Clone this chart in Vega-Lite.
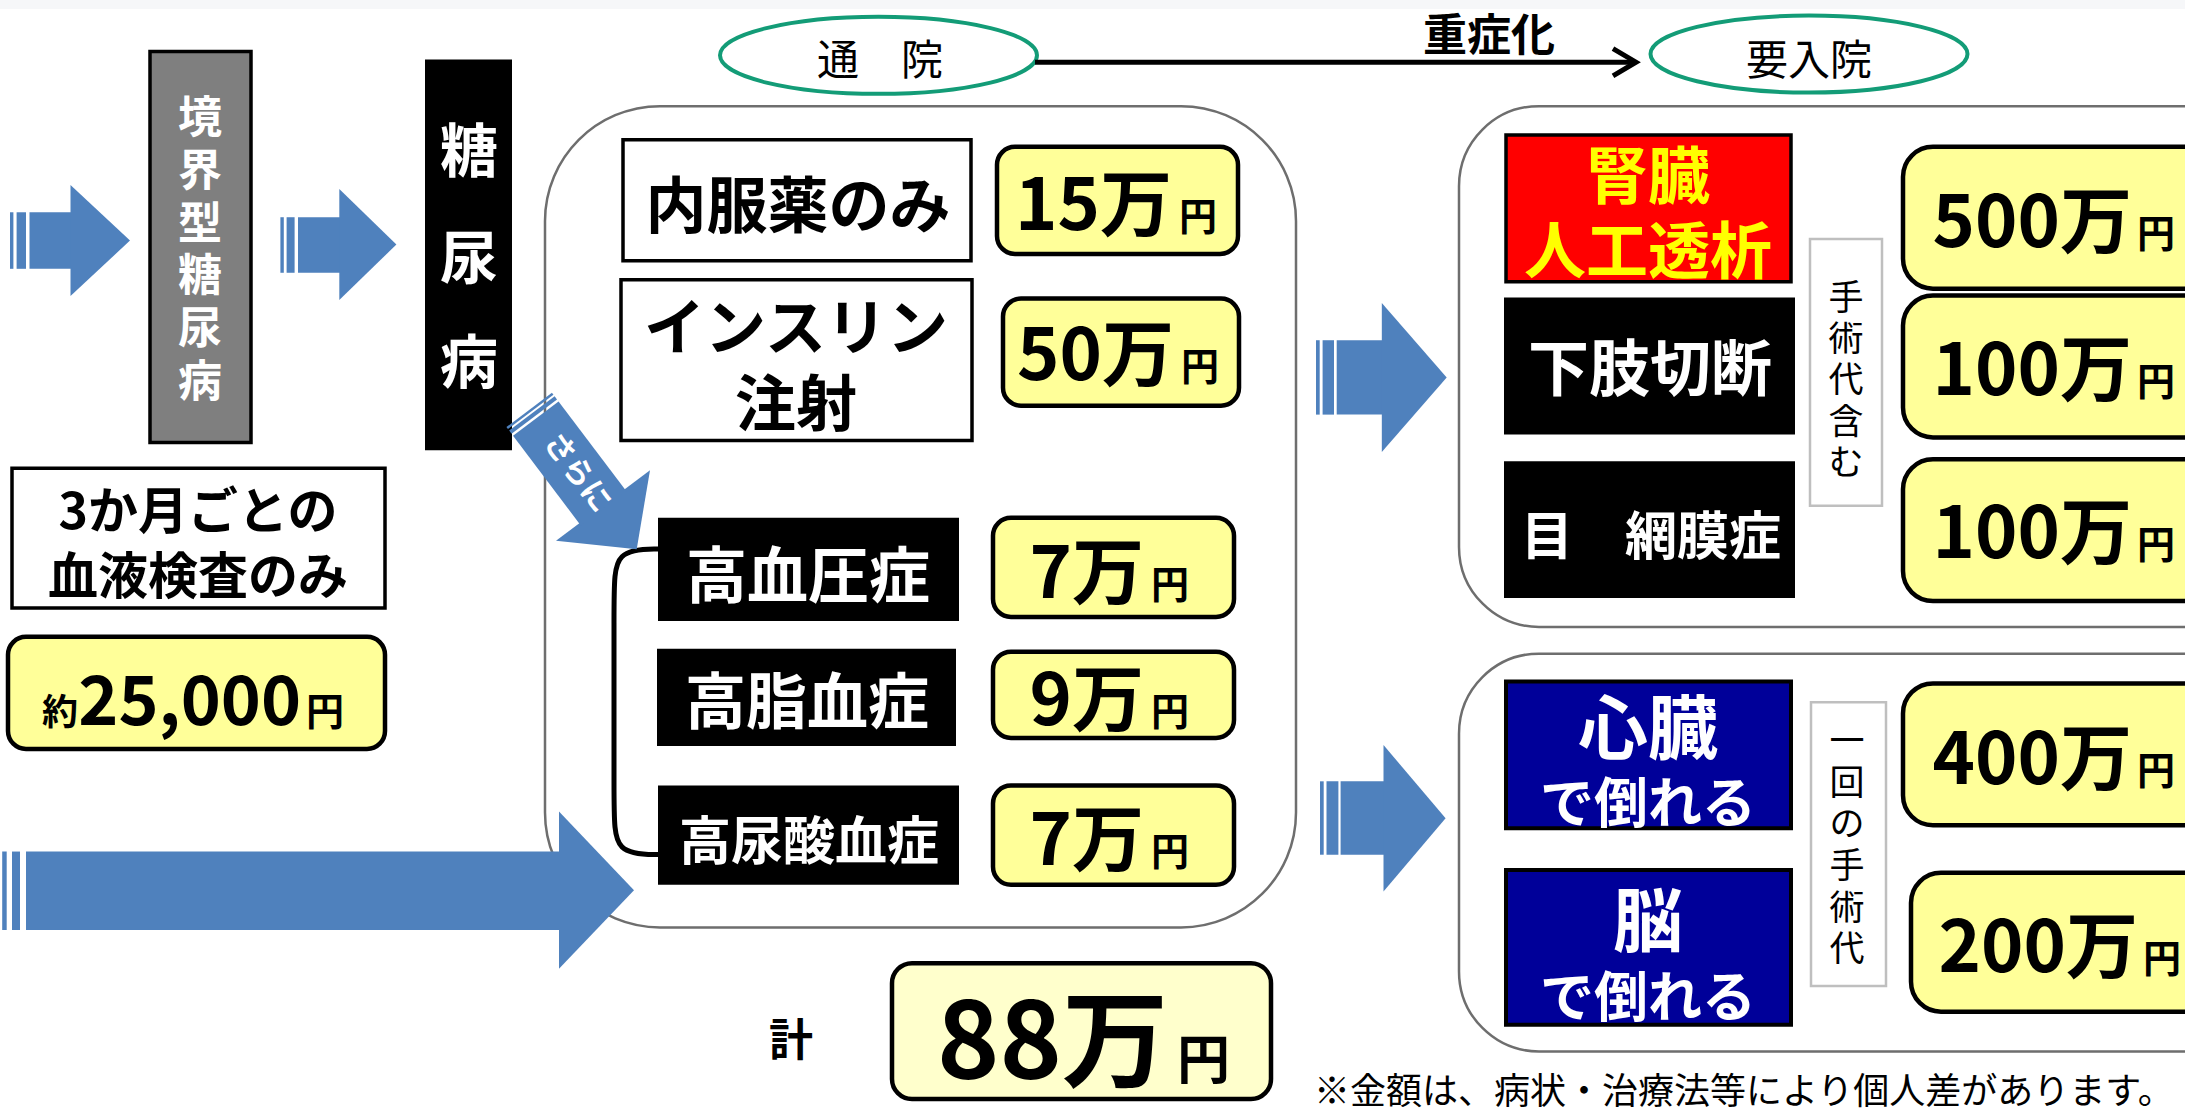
{
  "$schema": "https://vega.github.io/schema/vega-lite/v6.json",
  "width": 2185,
  "height": 1111,
  "autosize": {"type": "fit", "contains": "padding"},
  "padding": 0,
  "background": "white",
  "config": {"view": {"stroke": null}, "text": {"font": "Noto Sans CJK JP"}},
  "datasets": {
    "band": [{"x": 0, "x2": 2185, "y": 0, "y2": 9}],
    "frameL": [{"name": "通院", "x": 545, "x2": 1296, "y": 107, "y2": 935}],
    "frameR": [{"name": "要入院A", "x": 1459, "x2": 2290, "y": 107, "y2": 632}, {"name": "要入院B", "x": 1459, "x2": 2290, "y": 659, "y2": 1060}],
    "bracket": [{"o": 0, "x": 662, "y": 553.5}, {"o": 1, "x": 614, "y": 553.5}, {"o": 2, "x": 614, "y": 600}, {"o": 3, "x": 614, "y": 815}, {"o": 4, "x": 614, "y": 861.5}, {"o": 5, "x": 662, "y": 861.5}],
    "whiteBoxes": [{"x": 623, "x2": 971, "y": 141, "y2": 263}, {"x": 621, "x2": 972, "y": 282, "y2": 444}, {"x": 12, "x2": 385, "y": 472, "y2": 613}],
    "grayBox": [{"x": 150, "x2": 251, "y": 52, "y2": 446}],
    "blackBoxes": [{"x": 425, "x2": 512, "y": 60, "y2": 454}, {"x": 658, "x2": 959, "y": 522, "y2": 626}, {"x": 657, "x2": 956, "y": 654, "y2": 752}, {"x": 658, "x2": 959, "y": 792, "y2": 892}, {"x": 1504, "x2": 1795, "y": 300, "y2": 438}, {"x": 1504, "x2": 1795, "y": 465, "y2": 603}],
    "redBox": [{"x": 1506, "x2": 1791, "y": 136, "y2": 284}],
    "navyBoxes": [{"x": 1506, "x2": 1791, "y": 687, "y2": 835}, {"x": 1506, "x2": 1791, "y": 877, "y2": 1033}],
    "noteBoxes": [{"x": 1810, "x2": 1882, "y": 241, "y2": 510}, {"x": 1811, "x2": 1886, "y": 708, "y2": 994}],
    "priceBoxes": [{"x": 8, "x2": 385, "y": 642, "y2": 755}, {"x": 997, "x2": 1238, "y": 148, "y2": 256}, {"x": 1003, "x2": 1239, "y": 301, "y2": 409}, {"x": 993, "x2": 1234, "y": 522, "y2": 622}, {"x": 993, "x2": 1234, "y": 657, "y2": 744}, {"x": 993, "x2": 1234, "y": 792, "y2": 892}],
    "priceBoxesR": [{"x": 1903, "x2": 2215, "y": 148, "y2": 291}, {"x": 1903, "x2": 2215, "y": 298, "y2": 441}, {"x": 1903, "x2": 2215, "y": 463, "y2": 606}, {"x": 1903, "x2": 2215, "y": 689, "y2": 832}, {"x": 1911, "x2": 2215, "y": 880, "y2": 1020}],
    "totalBox": [{"x": 892, "x2": 1271, "y": 971, "y2": 1108}],
    "arrowBars": [
      {"x": 10, "x2": 13.4, "y": 214, "y2": 271}, {"x": 16.6, "x2": 26, "y": 214, "y2": 271}, {"x": 29.5, "x2": 71, "y": 214, "y2": 271},
      {"x": 280.4, "x2": 283.8, "y": 219, "y2": 275}, {"x": 286.6, "x2": 294.6, "y": 219, "y2": 275}, {"x": 298, "x2": 340, "y": 219, "y2": 275},
      {"x": 1316, "x2": 1319.7, "y": 343, "y2": 418}, {"x": 1322.6, "x2": 1334, "y": 343, "y2": 418}, {"x": 1336.7, "x2": 1382.5, "y": 343, "y2": 418},
      {"x": 1320, "x2": 1323.7, "y": 787.7, "y2": 861.7}, {"x": 1326.5, "x2": 1338.4, "y": 787.7, "y2": 861.7}, {"x": 1340.6, "x2": 1384, "y": 787.7, "y2": 861.7},
      {"x": 2.2, "x2": 6.7, "y": 858.5, "y2": 937.6}, {"x": 12, "x2": 20, "y": 858.5, "y2": 937.6}, {"x": 26, "x2": 560, "y": 858.5, "y2": 937.6}
    ],
    "arrowHeads": [
      {"id": "a1", "x": 70.5, "y": 242.5},
      {"id": "a2", "x": 339.3, "y": 246.5},
      {"id": "a3", "x": 1381.8, "y": 380.5},
      {"id": "a4", "x": 1383.5, "y": 825},
      {"id": "a5", "x": 559, "y": 897.4},
      {"id": "a6", "x": 603, "y": 509.7}
    ],
    "diagShaft": [{"x": 535.8, "y": 422, "x2": 603.5, "y2": 512.4}],
    "diagStripes": [{"x": 529.2, "y": 413.2, "x2": 530.7, "y2": 415.2}, {"x": 531.9, "y": 416.8, "x2": 534.3, "y2": 420}],
    "ovals": [{"t": "通院", "x": 878.5, "y": 55.8}, {"t": "要入院", "x": 1809, "y": 54.5}],
    "connector": [{"x": 1035, "x2": 1634, "y": 62.7}],
    "chevron": [{"o": 0, "x": 1613, "y": 49}, {"o": 1, "x": 1636, "y": 62.7}, {"o": 2, "x": 1613, "y": 76.5}]
  },
  "encoding": {
    "x": {"field": "x", "type": "quantitative", "scale": {"domain": [0, 2185], "nice": false, "zero": false}, "axis": null},
    "y": {"field": "y", "type": "quantitative", "scale": {"domain": [0, 1111], "nice": false, "zero": false, "reverse": true}, "axis": null}
  },
  "layer": [
    {"data": {"name": "band"}, "mark": {"type": "rect", "fill": "#F6F7F9"}, "encoding": {"x2": {"field": "x2"}, "y2": {"field": "y2"}}},
    {"data": {"name": "frameL"}, "mark": {"type": "rect", "fill": "white", "stroke": "#6E6E6E", "strokeWidth": 2.5, "cornerRadius": 115}, "encoding": {"x2": {"field": "x2"}, "y2": {"field": "y2"}}},
    {"data": {"name": "frameR"}, "mark": {"type": "rect", "fill": "white", "stroke": "#6E6E6E", "strokeWidth": 2.5, "cornerRadius": 80, "clip": true}, "encoding": {"x2": {"field": "x2"}, "y2": {"field": "y2"}}},
    {"data": {"name": "bracket"}, "mark": {"type": "line", "stroke": "black", "strokeWidth": 5, "interpolate": "basis"}, "encoding": {"order": {"field": "o", "type": "quantitative"}}},
    {"data": {"name": "whiteBoxes"}, "mark": {"type": "rect", "fill": "white", "stroke": "black", "strokeWidth": 3.5}, "encoding": {"x2": {"field": "x2"}, "y2": {"field": "y2"}}},
    {"data": {"name": "grayBox"}, "mark": {"type": "rect", "fill": "#7F7F7F", "stroke": "black", "strokeWidth": 3.5}, "encoding": {"x2": {"field": "x2"}, "y2": {"field": "y2"}}},
    {"data": {"name": "blackBoxes"}, "mark": {"type": "rect", "fill": "black"}, "encoding": {"x2": {"field": "x2"}, "y2": {"field": "y2"}}},
    {"data": {"name": "redBox"}, "mark": {"type": "rect", "fill": "#FF0000", "stroke": "black", "strokeWidth": 3.5}, "encoding": {"x2": {"field": "x2"}, "y2": {"field": "y2"}}},
    {"data": {"name": "navyBoxes"}, "mark": {"type": "rect", "fill": "#000099", "stroke": "black", "strokeWidth": 4}, "encoding": {"x2": {"field": "x2"}, "y2": {"field": "y2"}}},
    {"data": {"name": "noteBoxes"}, "mark": {"type": "rect", "fill": "white", "stroke": "#BFBFBF", "strokeWidth": 2.5}, "encoding": {"x2": {"field": "x2"}, "y2": {"field": "y2"}}},
    {"data": {"name": "priceBoxes"}, "mark": {"type": "rect", "fill": "#FFFF99", "stroke": "black", "strokeWidth": 4.5, "cornerRadius": 18}, "encoding": {"x2": {"field": "x2"}, "y2": {"field": "y2"}}},
    {"data": {"name": "priceBoxesR"}, "mark": {"type": "rect", "fill": "#FFFF99", "stroke": "black", "strokeWidth": 4.5, "cornerRadius": 30, "clip": true}, "encoding": {"x2": {"field": "x2"}, "y2": {"field": "y2"}}},
    {"data": {"name": "totalBox"}, "mark": {"type": "rect", "fill": "#FFFFCC", "stroke": "black", "strokeWidth": 4.5, "cornerRadius": 20}, "encoding": {"x2": {"field": "x2"}, "y2": {"field": "y2"}}},
    {"data": {"name": "arrowBars"}, "mark": {"type": "rect", "fill": "#4F81BD"}, "encoding": {"x2": {"field": "x2"}, "y2": {"field": "y2"}}},
    {"data": {"name": "arrowHeads"}, "mark": {"type": "point", "filled": true, "size": 4, "opacity": 1, "color": "#4F81BD", "strokeWidth": 0}, "encoding": {"shape": {"field": "id", "type": "nominal", "legend": null, "scale": {"domain": ["a1", "a2", "a3", "a4", "a5", "a6"], "range": ["M0,-55.5L59.5,0L0,55.5Z", "M0,-55.5L57.1,0L0,55.5Z", "M0,-74.5L64.9,0L0,74.5Z", "M0,-73.3L62.1,0L0,73.3Z", "M0,-78.7L75,0L0,78.6Z", "M-47,35.3L47,-35.4L33.7,43.6Z"]}}}},
    {"data": {"name": "diagShaft"}, "mark": {"type": "rule", "stroke": "#4F81BD", "strokeWidth": 57, "strokeCap": "butt"}, "encoding": {"x2": {"field": "x2"}, "y2": {"field": "y2"}}},
    {"data": {"name": "diagStripes"}, "mark": {"type": "rule", "stroke": "#4F81BD", "strokeWidth": 57, "strokeCap": "butt"}, "encoding": {"x2": {"field": "x2"}, "y2": {"field": "y2"}}},
    {"data": {"name": "ovals"}, "mark": {"type": "point", "shape": "M-1,0 C-1,-0.134 -0.552,-0.243 0,-0.243 C0.552,-0.243 1,-0.134 1,0 C1,0.134 0.552,0.243 0,0.243 C-0.552,0.243 -1,0.134 -1,0 Z", "size": 100489, "filled": false, "stroke": "#139C77", "strokeWidth": 4, "opacity": 1}, "encoding": {}},
    {"data": {"name": "connector"}, "mark": {"type": "rule", "stroke": "black", "strokeWidth": 5}, "encoding": {"x2": {"field": "x2"}}},
    {"data": {"name": "chevron"}, "mark": {"type": "line", "stroke": "black", "strokeWidth": 5, "strokeJoin": "miter"}, "encoding": {"order": {"field": "o", "type": "quantitative"}}},
    {"data": {"values": [{"t": "境", "x": 200, "y": 121}, {"t": "界", "x": 200, "y": 174.2}, {"t": "型", "x": 200, "y": 227.4}, {"t": "糖", "x": 200, "y": 280.6}, {"t": "尿", "x": 200, "y": 333.8}, {"t": "病", "x": 200, "y": 387}]}, "mark": {"type": "text", "fontSize": 44, "fontWeight": "bold", "color": "white", "align": "center", "baseline": "middle"}, "encoding": {"text": {"field": "t"}}},
    {"data": {"values": [{"t": "糖", "x": 469, "y": 156}, {"t": "尿", "x": 469, "y": 264}, {"t": "病", "x": 469, "y": 369}]}, "mark": {"type": "text", "fontSize": 58, "fontWeight": "bold", "color": "white", "align": "center", "baseline": "middle"}, "encoding": {"text": {"field": "t"}}},
    {"data": {"values": [{"t": "3か月ごとの", "x": 198, "y": 518}, {"t": "血液検査のみ", "x": 198, "y": 584}]}, "mark": {"type": "text", "fontSize": 50, "fontWeight": "bold", "color": "black", "align": "center", "baseline": "middle"}, "encoding": {"text": {"field": "t"}}},
    {"data": {"values": [{"t": "内服薬のみ", "x": 798, "y": 212}, {"t": "インスリン", "x": 796, "y": 335}, {"t": "注射", "x": 796, "y": 411}]}, "mark": {"type": "text", "fontSize": 61, "fontWeight": "bold", "color": "black", "align": "center", "baseline": "middle"}, "encoding": {"text": {"field": "t"}}},
    {"data": {"values": [{"t": "計", "x": 791, "y": 1052}, {"t": "重症化", "x": 1489, "y": 38}]}, "mark": {"type": "text", "fontSize": 44, "fontWeight": "bold", "color": "black", "align": "center", "baseline": "middle"}, "encoding": {"text": {"field": "t"}}},
    {"data": {"values": [{"t": "高血圧症", "x": 808, "y": 585}, {"t": "高脂血症", "x": 807, "y": 712}, {"t": "下肢切断", "x": 1650, "y": 376}]}, "mark": {"type": "text", "fontSize": 61, "fontWeight": "bold", "color": "white", "align": "center", "baseline": "middle"}, "encoding": {"text": {"field": "t"}}},
    {"data": {"values": [{"t": "高尿酸血症", "x": 809, "y": 851}, {"t": "目　網膜症", "x": 1651, "y": 543}]}, "mark": {"type": "text", "fontSize": 52, "fontWeight": "bold", "color": "white", "align": "center", "baseline": "middle"}, "encoding": {"text": {"field": "t"}}},
    {"data": {"values": [{"t": "心臓", "x": 1648, "y": 739}, {"t": "脳", "x": 1648, "y": 934}]}, "mark": {"type": "text", "fontSize": 70, "fontWeight": "bold", "color": "white", "align": "center", "baseline": "middle"}, "encoding": {"text": {"field": "t"}}},
    {"data": {"values": [{"t": "で倒れる", "x": 1648, "y": 814}, {"t": "で倒れる", "x": 1648, "y": 1009}]}, "mark": {"type": "text", "fontSize": 54, "fontWeight": "bold", "color": "white", "align": "center", "baseline": "middle"}, "encoding": {"text": {"field": "t"}}},
    {"data": {"values": [{"t": "腎臓", "x": 1648, "y": 181}, {"t": "人工透析", "x": 1648, "y": 257}]}, "mark": {"type": "text", "fontSize": 62, "fontWeight": "bold", "color": "#FFFF00", "align": "center", "baseline": "middle"}, "encoding": {"text": {"field": "t"}}},
    {"data": {"values": [{"t": "通　院", "x": 880, "y": 63}, {"t": "要入院", "x": 1809, "y": 63}]}, "mark": {"type": "text", "fontSize": 42, "color": "black", "align": "center", "baseline": "middle"}, "encoding": {"text": {"field": "t"}}},
    {"data": {"values": [
      {"t": "手", "x": 1846, "y": 301}, {"t": "術", "x": 1846, "y": 342.8}, {"t": "代", "x": 1846, "y": 384.5}, {"t": "含", "x": 1846, "y": 426.3}, {"t": "む", "x": 1846, "y": 468},
      {"t": "一", "x": 1847, "y": 748}, {"t": "回", "x": 1847, "y": 790}, {"t": "の", "x": 1847, "y": 832}, {"t": "手", "x": 1847, "y": 874}, {"t": "術", "x": 1847, "y": 916}, {"t": "代", "x": 1847, "y": 958}
    ]}, "mark": {"type": "text", "fontSize": 35, "color": "black", "align": "center", "baseline": "middle"}, "encoding": {"text": {"field": "t"}}},
    {"data": {"values": [{"t": "※金額は、病状・治療法等により個人差があります。", "x": 1314, "y": 1085}]}, "mark": {"type": "text", "fontSize": 36, "color": "black", "align": "left", "baseline": "top"}, "encoding": {"text": {"field": "t"}}},
    {"data": {"values": [{"t": "さらに", "x": 577, "y": 477}]}, "mark": {"type": "text", "fontSize": 30, "fontWeight": "bold", "color": "white", "align": "center", "baseline": "middle", "angle": 53}, "encoding": {"text": {"field": "t"}}},
    {"data": {"values": [
      {"t": "15万", "x": 1172, "y": 232}, {"t": "50万", "x": 1174, "y": 383}, {"t": "7万", "x": 1144, "y": 603}, {"t": "9万", "x": 1144, "y": 731}, {"t": "7万", "x": 1144, "y": 872},
      {"t": "500万", "x": 2132, "y": 249}, {"t": "100万", "x": 2132, "y": 398}, {"t": "100万", "x": 2132, "y": 563}, {"t": "400万", "x": 2132, "y": 790}, {"t": "200万", "x": 2138, "y": 980}
    ]}, "mark": {"type": "text", "fontSize": 72, "fontWeight": "bold", "color": "black", "align": "right", "baseline": "alphabetic"}, "encoding": {"text": {"field": "t"}}},
    {"data": {"values": [
      {"t": "円", "x": 1179, "y": 232}, {"t": "円", "x": 1181, "y": 383}, {"t": "円", "x": 1151, "y": 603}, {"t": "円", "x": 1151, "y": 731}, {"t": "円", "x": 1151, "y": 872},
      {"t": "円", "x": 2137, "y": 249}, {"t": "円", "x": 2137, "y": 398}, {"t": "円", "x": 2137, "y": 563}, {"t": "円", "x": 2137, "y": 790}, {"t": "円", "x": 2143, "y": 980},
      {"t": "円", "x": 306, "y": 731}
    ]}, "mark": {"type": "text", "fontSize": 38, "fontWeight": "bold", "color": "black", "align": "left", "baseline": "alphabetic"}, "encoding": {"text": {"field": "t"}}},
    {"data": {"values": [{"t": "約", "x": 78, "y": 731}]}, "mark": {"type": "text", "fontSize": 36, "fontWeight": "bold", "color": "black", "align": "right", "baseline": "alphabetic"}, "encoding": {"text": {"field": "t"}}},
    {"data": {"values": [{"t": "25,000", "x": 301, "y": 731}]}, "mark": {"type": "text", "fontSize": 68, "fontWeight": "bold", "color": "black", "align": "right", "baseline": "alphabetic"}, "encoding": {"text": {"field": "t"}}},
    {"data": {"values": [{"t": "88万", "x": 1168, "y": 1088}]}, "mark": {"type": "text", "fontSize": 106, "fontWeight": "bold", "color": "black", "align": "right", "baseline": "alphabetic"}, "encoding": {"text": {"field": "t"}}},
    {"data": {"values": [{"t": "円", "x": 1177, "y": 1088}]}, "mark": {"type": "text", "fontSize": 53, "fontWeight": "bold", "color": "black", "align": "left", "baseline": "alphabetic"}, "encoding": {"text": {"field": "t"}}}
  ]
}
